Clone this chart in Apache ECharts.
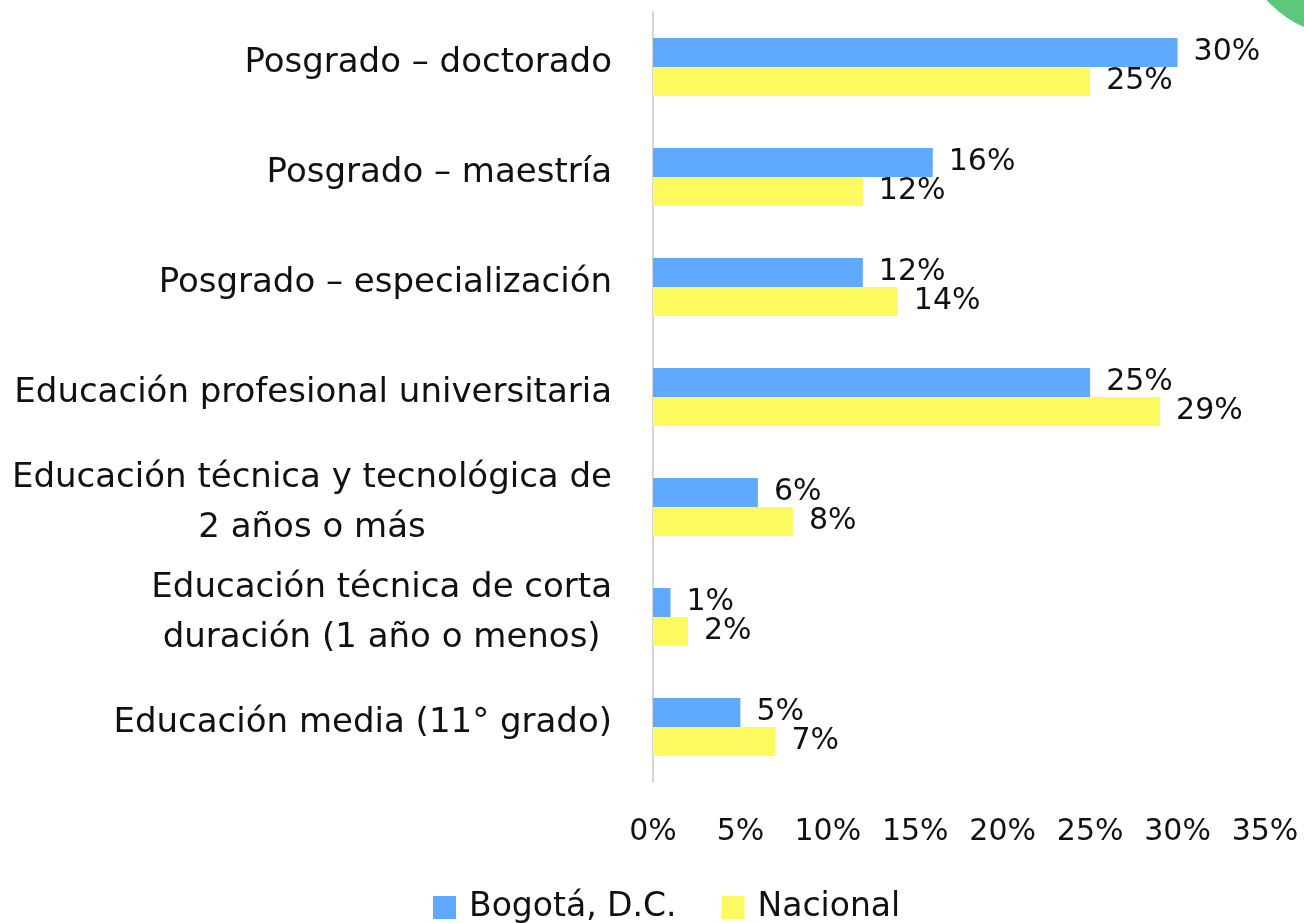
<!DOCTYPE html>
<html>
<head>
<meta charset="utf-8">
<script src="https://cdn.jsdelivr.net/npm/echarts@6/dist/echarts.min.js"></script>
<style>
  html, body { margin: 0; padding: 0; background: #fff; }
  #chart { width: 1304px; height: 923px; }
</style>
</head>
<body>
<div id="chart"></div>
<script>
// categorías de arriba hacia abajo
const categories = [
    'Posgrado – doctorado',
    'Posgrado – maestría',
    'Posgrado – especialización',
    'Educación profesional universitaria',
    'Educación técnica y tecnológica de\n2 años o más',
    'Educación técnica de corta\nduración (1 año o menos)',
    'Educación media (11° grado)'
];
const bogota = [30, 16, 12, 25, 6, 1, 5];
const nacional = [25, 12, 14, 29, 8, 2, 7];
const seriesNames = ['Bogotá, D.C.', 'Nacional'];
const xTicks = { min: 0, max: 35, step: 5 };

const FONT = 'DejaVu Sans';
const chart = echarts.init(document.getElementById('chart'));

const valueLabel = {
    show: true,
    position: 'right',
    distance: 16,
    formatter: p => p.value + '%',
    color: '#111',
    fontFamily: FONT,
    fontSize: 30
};

chart.setOption({
    backgroundColor: '#fff',
    animation: false,
    textStyle: { fontFamily: FONT },
    graphic: [{
        type: 'circle',
        shape: { cx: 1347, cy: -72, r: 108 },
        style: { fill: '#5cc879' }
    }],
    grid: { left: 653, right: 39, top: 12, bottom: 141 },
    legend: {
        top: 886,
        left: 428,
        itemWidth: 23,
        itemHeight: 23,
        itemGap: 45,
        icon: 'rect',
        textStyle: { fontFamily: FONT, fontSize: 33, color: '#111', padding: [0, 0, 0, 8] },
        data: seriesNames
    },
    xAxis: {
        type: 'value',
        min: xTicks.min,
        max: xTicks.max,
        interval: xTicks.step,
        axisLine: { show: false },
        axisTick: { show: false },
        splitLine: { show: false },
        axisLabel: {
            formatter: '{value}%',
            margin: 35,
            color: '#111',
            fontFamily: FONT,
            fontSize: 30
        }
    },
    yAxis: {
        type: 'category',
        inverse: true,
        data: categories,
        axisTick: { show: false },
        axisLine: { lineStyle: { color: '#d6d6d6', width: 2 } },
        axisLabel: {
            margin: 41,
            padding: [0, 0, 8, 0],
            formatter: v => v.split('\n').map(l => '{c|' + l + '}').join('\n'),
            rich: {
                c: {
                    align: 'center',
                    fontFamily: FONT,
                    fontSize: 34,
                    lineHeight: 50,
                    color: '#111'
                }
            }
        }
    },
    series: [
        {
            name: seriesNames[0],
            type: 'bar',
            data: bogota,
            barWidth: 29,
            barGap: '0%',
            itemStyle: { color: '#5fa9ff' },
            label: valueLabel
        },
        {
            name: seriesNames[1],
            type: 'bar',
            data: nacional,
            barWidth: 29,
            barGap: '0%',
            itemStyle: { color: '#fdfa5f' },
            label: valueLabel
        }
    ]
});
</script>
</body>
</html>
